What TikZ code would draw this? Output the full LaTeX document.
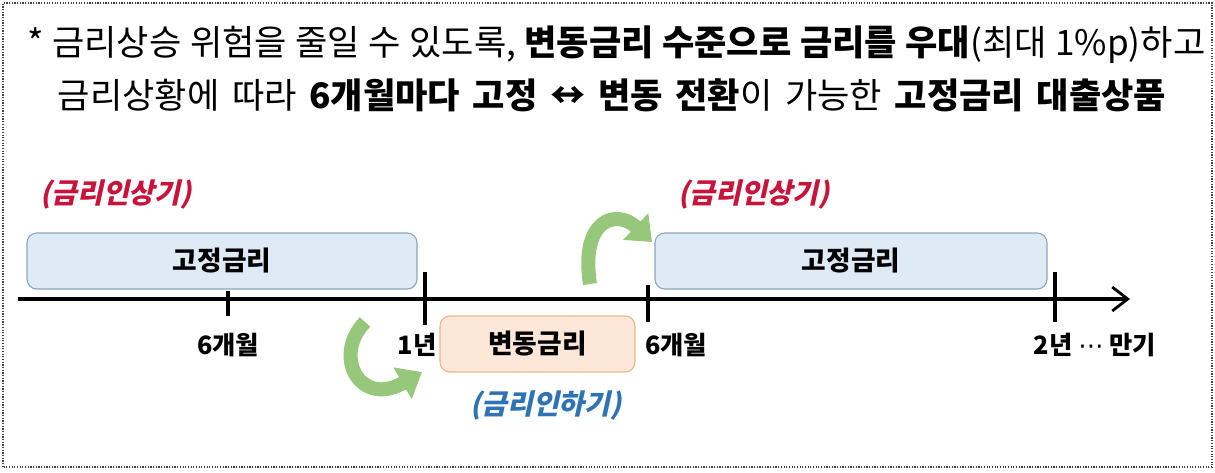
\documentclass[tikz,border=0pt]{standalone}
\usepackage{fontspec}
\setmainfont{Noto Sans CJK KR}
\newfontfamily\slantkr[FakeSlant=0.22]{Noto Sans CJK KR}
\newfontfamily\symkr{DejaVu Sans}
\newcommand\widespace{\spaceskip=0.36em plus 0.1em\relax}
\newcommand\narrowspace{\spaceskip=0.24em plus 0.1em\relax}
\usetikzlibrary{arrows.meta}
\tikzset{>=stealth}
\definecolor{fixFill}{HTML}{DEEBF7}
\definecolor{fixLine}{HTML}{8DA5BD}
\definecolor{varFill}{HTML}{FDE7D8}
\definecolor{varLine}{HTML}{F0B48C}
\definecolor{upRed}{HTML}{C8143A}
\definecolor{downBlue}{HTML}{2E74B5}
\definecolor{turnGreen}{HTML}{97C77A}
\tikzstyle{headline} = [inner sep = 0pt, font = \fontsize{25pt}{30pt}\selectfont]
\tikzstyle{fixed} = [rectangle, rounded corners = 7pt, text centered, minimum width = 9.75cm, minimum height = 1.4cm, draw = fixLine, fill = fixFill, line width = 0.8pt, font = \fontsize{19pt}{22pt}\selectfont\bfseries]
\tikzstyle{floating} = [rectangle, rounded corners = 7pt, text centered, minimum width = 4.875cm, minimum height = 1.4cm, draw = varLine, fill = varFill, line width = 0.8pt, font = \fontsize{19pt}{22pt}\selectfont\bfseries]
\tikzstyle{period} = [inner sep = 0pt, font = \fontsize{18pt}{21pt}\selectfont\bfseries]
\tikzstyle{phase} = [inner sep = 0pt, font = \slantkr\fontsize{20pt}{23pt}\selectfont\bfseries]
\tikzstyle{tick} = [line width = 2.2pt]
\tikzstyle{turn} = [line width = 10pt, draw = turnGreen, -{Triangle[length = 16pt, width = 25pt]}]

\begin{document}
\begin{tikzpicture}
    \useasboundingbox (0,0) rectangle (30.375,11.8);
    \coordinate (frameSW) at (0.075,0.125);
    \coordinate (frameNE) at (30.3,11.725);
    \draw [densely dotted, line width = 0.9pt, black!75] (frameSW) rectangle (frameNE);
    \node (headlineTop) at (15.41,10.675) [headline] {\narrowspace * 금리상승 위험을 줄일 수 있도록, \textbf{변동금리 수준으로 금리를 우대}(최대 1\%p)하고};
    \node (headlineBottom) at (15.3,9.425) [headline] {\widespace 금리상황에 따라 \textbf{6개월마다 고정 ↔ 변동 전환}이 가능한 \textbf{고정금리 대출상품}};
    \node (fixFirst) at (5.55,5.275) [fixed] {고정금리};
    \node (fixSecond) at (21.275,5.275) [fixed, minimum width = 9.8cm] {고정금리};
    \node (varMid) at (13.4375,3.2) [floating] {변동금리};
    \node (riseA) at (2.9,6.925) [phase, text = upRed] {(금리인상기)};
    \node (riseB) at (18.85,6.925) [phase, text = upRed] {(금리인상기)};
    \node (fall) at (13.65,1.675) [phase, text = downBlue] {(금리인하기)};
    \coordinate (axisStart) at (0.45,4.325);
    \coordinate (axisEnd) at (28.25,4.325);
    \draw [line width = 2.2pt, -{Straight Barb[length = 11pt, width = 17pt, line width = 2pt]}] (axisStart) -- (axisEnd);
    \draw [tick] (5.7,4.525) -- (5.7,3.9);
    \draw [tick] (10.625,5.0) -- (10.625,3.675);
    \draw [tick] (16.2,4.675) -- (16.2,3.75);
    \draw [tick] (26.375,5.0) -- (26.375,3.75);
    \node (sixMonthA) at (5.7,3.175) [period] {6개월};
    \node (oneYear) at (10.425,3.175) [period] {1년};
    \node (sixMonthB) at (16.9,3.175) [period] {6개월};
    \node (twoYear) at (27.375,3.175) [period] {2년 {\symkr\mdseries ⋯} 만기};
    % switch arrows
    \coordinate (downStart) at (9.125,3.75);
    \coordinate (downEnd) at (10.55,2.5);
    \coordinate (upStart) at (14.75,4.7);
    \coordinate (upEnd) at (16.3,5.75);
    \draw [turn] (downStart) .. controls (8.3,2.9) and (9.0,1.6) .. (downEnd);
    \draw [turn] (upStart) .. controls (14.5,6.3) and (15.4,6.6) .. (upEnd);
\end{tikzpicture}
\end{document}
